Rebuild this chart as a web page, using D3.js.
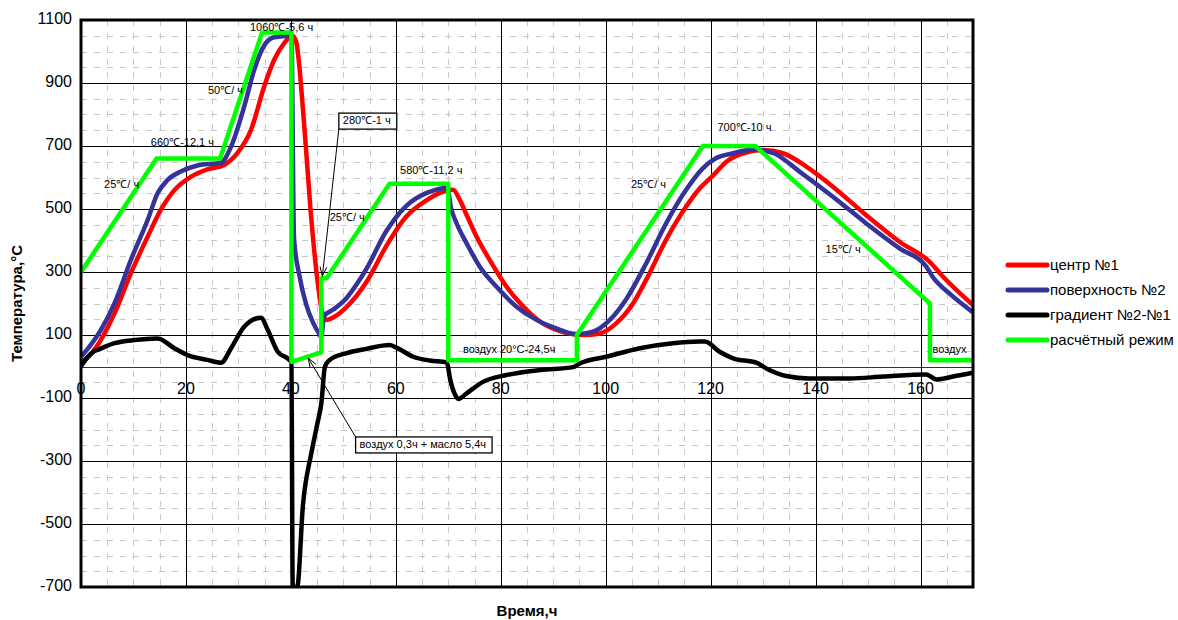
<!DOCTYPE html>
<html>
<head>
<meta charset="utf-8">
<script src="https://cdn.jsdelivr.net/npm/d3@7"></script>
<style>
  body { margin: 0; background: #fff; }
  svg { display: block; }
  text { font-family: Arial, "Liberation Sans", sans-serif; fill: #000; }
</style>
</head>
<body>
<svg id="chart" width="1178" height="620"></svg>
<script>
// Temperature of the forging: [time, h ; temperature, °C]
const centerSeries = [
  [0,10],[2.5,52],[6.4,169],[9.5,296],[12.7,412],[15.2,497],[17.8,560],[21,603],[24.1,626],
  [27.3,640],[29.8,677],[32.4,751],[34.9,888],[36.8,973],[38.7,1026],[40.3,1050],[41,1031],
  [42.6,753],[43.8,487],[45.1,268],[45.8,187],[46.7,148],[48.5,160],[50.5,187],[54.4,268],
  [58.2,383],[62,476],[65.9,528],[69.4,557],[70.9,561],[72.2,529],[73.5,481],[75.4,412],
  [77.9,338],[81.1,253],[84.3,190],[87.5,142],[90.6,116],[93.8,102],[95.7,100],[98.9,105],
  [102,137],[105.2,200],[107.7,275],[111.5,402],[115.3,507],[117.9,565],[120.4,605],[123,650],
  [126.2,677],[130,687],[133.8,677],[138.3,634],[143.3,571],[149.6,481],[156,396],[161.7,333],
  [164.3,285],[170,195]
];
const surfaceSeries = [
  [0,30],[3.8,116],[6.4,201],[9.5,338],[12.7,465],[14.6,550],[16.5,592],[19,619],[22.2,638],
  [26.7,647],[28.6,698],[31.1,825],[33,941],[34.6,1010],[36.8,1045],[40.1,1050],[40.6,406],
  [41.6,291],[42.9,198],[44.2,140],[45.4,104],[45.8,94],[46.3,160],[48,180],[50.5,215],
  [52.5,260],[54.4,310],[58.2,430],[62,510],[65.9,551],[69.8,567],[70.5,505],[71.6,454],
  [73.5,391],[76,317],[79.2,253],[83,190],[86.8,148],[90.6,121],[94.4,103],[97.6,111],
  [100.8,148],[104,216],[107.7,327],[111.5,454],[115.3,560],[118.5,629],[121,661],[124.3,677],
  [128.1,689],[132,677],[137,618],[143.3,539],[149.6,455],[156,375],[161.1,317],[162.3,285],
  [165.5,232],[170,172]
];
const gradientSeries = [
  [0,2],[2.2,45],[3.5,55],[6.4,74],[10.2,84],[14.6,89],[17.8,58],[20.3,36],[24.1,21],[26.7,12],
  [28.6,58],[31.1,126],[34.3,155],[35.6,116],[37.5,47],[39.7,21],[40.1,12],[40.35,-700],
  [41.2,-700],[42.3,-440],[43.9,-275],[45,-185],[45.8,-117],[46.5,0],[47.4,21],[50.5,42],
  [54.4,56],[58.8,68],[60.1,60],[63.3,31],[66.5,19],[69.7,13],[70.4,-44],[71.3,-90],
  [71.9,-103],[73.5,-85],[76.7,-48],[81.1,-27],[87.5,-11],[93.8,-2],[95.1,10],[100.1,31],
  [106.5,58],[112.8,74],[117.9,79],[118.9,79],[121.7,47],[124.3,26],[128.7,12],[130.6,-6],
  [134.4,-30],[138.8,-38],[146.5,-38],[152.8,-32],[161.1,-25],[163,-41],[166.2,-32],[170,-20]
];
const regimeSeries = [
  [0,300],[14.4,660],[26.5,660],[34.5,1060],[40.1,1060],[40.1,15],[45.8,45],[45.8,280],
  [46.8,280],[58.8,580],[70,580],[70,20],[94.5,20],[94.5,100],[118.5,700],[128.5,700],
  [161.8,200],[161.8,20],[170,20]
];

const seriesNames = ["центр №1", "поверхность №2", "градиент №2-№1", "расчётный режим"];
const seriesColors = ["#ff0000", "#333399", "#000000", "#00ff00"];

const xTicks = [0, 20, 40, 60, 80, 100, 120, 140, 160];
const yTicks = [-700, -500, -300, -100, 100, 300, 500, 700, 900, 1100];

// Stage labels anchored at [time, temperature]
const notes = [
  { text: "25℃/ ч", t: 4.4, v: 576 },
  { text: "660℃-12,1 ч", t: 13.3, v: 710 },
  { text: "50℃/ ч", t: 24.2, v: 875 },
  { text: "1060℃-5,6 ч", t: 32.2, v: 1075 },
  { text: "25℃/ ч", t: 47.4, v: 471 },
  { text: "580℃-11,2 ч", t: 60.8, v: 621 },
  { text: "воздух 20°C-24,5ч", t: 72.8, v: 52 },
  { text: "25℃/ ч", t: 104.8, v: 576 },
  { text: "700℃-10 ч", t: 121.3, v: 757 },
  { text: "15℃/ ч", t: 141.9, v: 370 },
  { text: "воздух", t: 162.3, v: 52 }
];
// Boxed labels with a leader arrow to the regime line
const callouts = [
  { text: "280℃-1 ч", t: 49.9, v: 779, tipT: 46.0, tipV: 287 },
  { text: "воздух 0,3ч + масло 5,4ч", t: 53.1, v: -249, tipT: 43.3, tipV: 27 }
];

const svg = d3.select("#chart");
const x = d3.scaleLinear().domain([0, 170]).range([81, 973]);
const y = d3.scaleLinear().domain([-700, 1100]).range([587, 20]);
const [x0, x1] = x.range();
const [y0, y1] = y.range();

// minor grid
const g = svg.append("g");
const minorX = d3.range(5, 170, 5).filter(d => d % 20 !== 0);
const minorY = d3.range(-650, 1100, 50).filter(d => (d + 700) % 200 !== 0);
g.selectAll(".mx").data(minorX).join("line")
  .attr("x1", d => Math.round(x(d)) + 0.5).attr("x2", d => Math.round(x(d)) + 0.5)
  .attr("y1", y1).attr("y2", y0)
  .attr("stroke", "#c8c8c8").attr("stroke-width", 1).attr("stroke-dasharray", "6,7");
g.selectAll(".my").data(minorY).join("line")
  .attr("y1", d => Math.round(y(d)) + 0.5).attr("y2", d => Math.round(y(d)) + 0.5)
  .attr("x1", x0).attr("x2", x1)
  .attr("stroke", "#c8c8c8").attr("stroke-width", 1).attr("stroke-dasharray", "6,7");

// major grid
g.selectAll(".Mx").data(xTicks.filter(d => d > 0)).join("line")
  .attr("x1", d => Math.round(x(d)) + 0.5).attr("x2", d => Math.round(x(d)) + 0.5)
  .attr("y1", y1).attr("y2", y0).attr("stroke", "#000").attr("stroke-width", 1);
g.selectAll(".My").data(yTicks).join("line")
  .attr("y1", d => Math.round(y(d)) + 0.5).attr("y2", d => Math.round(y(d)) + 0.5)
  .attr("x1", x0).attr("x2", x1).attr("stroke", "#000").attr("stroke-width", 1);
// horizontal axis line at 0
g.append("line")
  .attr("x1", x0).attr("x2", x1)
  .attr("y1", Math.round(y(0)) + 0.5).attr("y2", Math.round(y(0)) + 0.5)
  .attr("stroke", "#333").attr("stroke-width", 1.2);

// series
svg.append("clipPath").attr("id", "plotClip").append("rect")
  .attr("x", x0).attr("y", y1).attr("width", x1 - x0).attr("height", y0 - y1);
const smooth = d3.line().x(d => x(d[0])).y(d => y(d[1])).curve(d3.curveMonotoneX);
const straight = d3.line().x(d => x(d[0])).y(d => y(d[1]));
const lines = svg.append("g").attr("clip-path", "url(#plotClip)");
[
  [centerSeries, smooth, seriesColors[0]],
  [surfaceSeries, smooth, seriesColors[1]],
  [gradientSeries, smooth, seriesColors[2]],
  [regimeSeries, straight, seriesColors[3]]
].forEach(([data, gen, color]) => {
  lines.append("path").datum(data).attr("d", gen)
    .attr("fill", "none").attr("stroke", color).attr("stroke-width", 4.5)
    .attr("stroke-linejoin", "round").attr("stroke-linecap", "round");
});

// stage labels
const ann = svg.append("g").attr("font-size", 11);
ann.selectAll(".note").data(notes).join("text")
  .attr("x", d => x(d.t)).attr("y", d => y(d.v))
  .attr("dominant-baseline", "middle").attr("fill", "#111")
  .text(d => d.text);

// boxed callouts with arrows
callouts.forEach(c => {
  const cg = ann.append("g");
  const tx = x(c.t), ty = y(c.v);
  const label = cg.append("text").attr("x", tx).attr("y", ty)
    .attr("dominant-baseline", "middle").attr("fill", "#111").text(c.text);
  const bb = label.node().getBBox();
  const bx = tx - 4, bw = bb.width + 10;
  const by = ty - 8, bh = 16;
  cg.insert("rect", "text").attr("x", bx).attr("y", by).attr("width", bw).attr("height", bh)
    .attr("fill", "#fff").attr("stroke", "#000").attr("stroke-width", 1.3);
  const px = x(c.tipT), py = y(c.tipV);
  const sx = bx, sy = py > by ? by + bh : by;
  cg.append("line").attr("x1", sx).attr("y1", sy).attr("x2", px).attr("y2", py)
    .attr("stroke", "#000").attr("stroke-width", 1);
  const ang = Math.atan2(sy - py, sx - px);
  const len = 10, spread = 0.35;
  const head = [
    [px + len * Math.cos(ang - spread), py + len * Math.sin(ang - spread)],
    [px, py],
    [px + len * Math.cos(ang + spread), py + len * Math.sin(ang + spread)]
  ];
  cg.append("path").attr("d", d3.line()(head))
    .attr("fill", "none").attr("stroke", "#000").attr("stroke-width", 1);
});

// plot frame
svg.append("rect").attr("x", x0).attr("y", y1).attr("width", x1 - x0).attr("height", y0 - y1)
  .attr("fill", "none").attr("stroke", "#000").attr("stroke-width", 3);

// tick labels
svg.append("g").selectAll("text").data(yTicks).join("text")
  .attr("x", x0 - 9).attr("y", d => y(d)).attr("text-anchor", "end")
  .attr("dominant-baseline", "middle").attr("font-size", 16).text(d => d);
svg.append("g").selectAll("text").data(xTicks).join("text")
  .attr("x", d => x(d)).attr("y", y(0) + 23).attr("text-anchor", "middle")
  .attr("dominant-baseline", "middle").attr("font-size", 16).text(d => d);

// axis titles
svg.append("text").attr("transform", `translate(18,${(y1 + y0) / 2}) rotate(-90)`)
  .attr("text-anchor", "middle").attr("dominant-baseline", "middle")
  .attr("font-size", 15).attr("font-weight", "bold").text("Температура,°C");
svg.append("text").attr("x", (x0 + x1) / 2).attr("y", 612)
  .attr("text-anchor", "middle").attr("dominant-baseline", "middle")
  .attr("font-size", 15).attr("font-weight", "bold").text("Время,ч");

// legend
const legend = svg.append("g");
seriesNames.forEach((name, i) => {
  const ly = 265 + i * 25;
  legend.append("line").attr("x1", 1008).attr("x2", 1047).attr("y1", ly).attr("y2", ly)
    .attr("stroke", seriesColors[i]).attr("stroke-width", 5).attr("stroke-linecap", "round");
  legend.append("text").attr("x", 1050).attr("y", ly + 1).attr("dominant-baseline", "middle")
    .attr("font-size", 15).text(name);
});
</script>
</body>
</html>
